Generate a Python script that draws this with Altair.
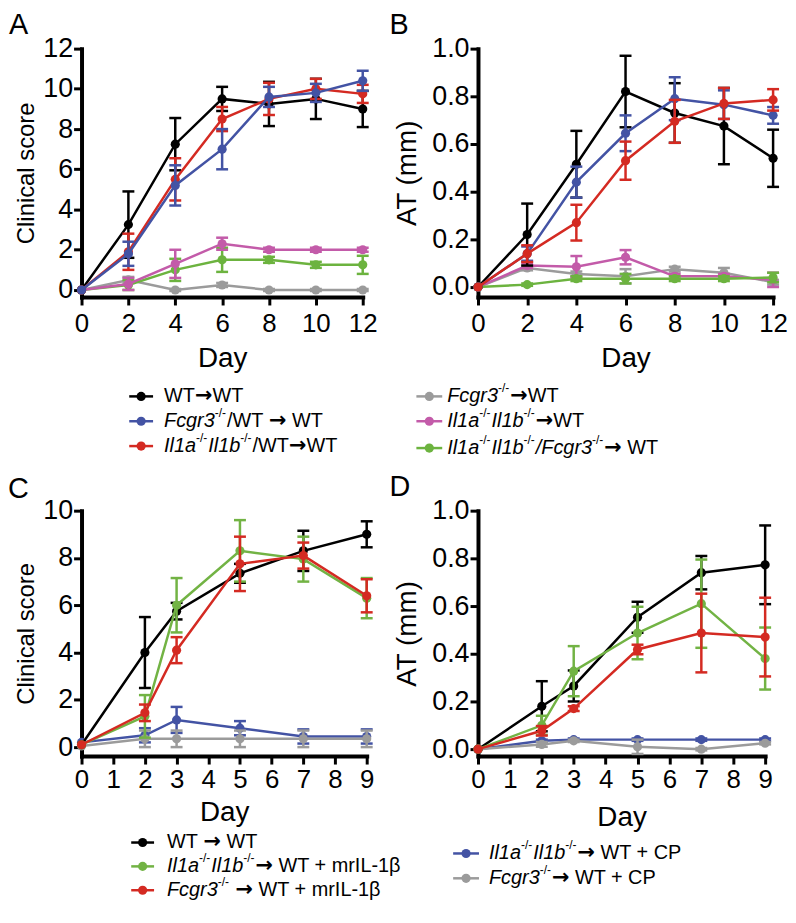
import altair as alt
import pandas as pd

FONT = "Liberation Sans, Arial, Helvetica, sans-serif"
ARROW_FONT = "DejaVu Sans, Liberation Sans, sans-serif"

# ------------------------------------------------------------------ data
DAYS_AB = [0, 2, 4, 6, 8, 10, 12]
DAYS_CD = [0, 2, 3, 5, 7, 9]

COLORS = {
    "wt": "#000000",
    "fcgr3_wt": "#4353A4",
    "il1_wt": "#D42A22",
    "fcgr3": "#9B9B9B",
    "il1": "#C35BA9",
    "il1_fcgr3": "#6CB33F",
    "il1_ril": "#72B344",
    "fcgr3_ril": "#D42A22",
    "il1_cp": "#4353A4",
    "fcgr3_cp": "#9B9B9B",
}

# Panel A: clinical score
A_MEAN = {
    "wt":        [0, 3.25, 7.25, 9.5, 9.25, 9.5, 9.0],
    "fcgr3_wt":  [0, 1.8, 5.2, 7.0, 9.6, 9.8, 10.4],
    "il1_wt":    [0, 1.9, 5.5, 8.5, 9.5, 10.0, 9.75],
    "fcgr3":     [0, 0.5, 0.0, 0.25, 0.0, 0.0, 0.0],
    "il1":       [0, 0.3, 1.3, 2.3, 2.0, 2.0, 2.0],
    "il1_fcgr3": [0, 0.25, 1.0, 1.5, 1.5, 1.25, 1.25],
}
A_SEM = {
    "wt":        [0, 1.65, 1.3, 0.6, 1.1, 1.0, 0.9],
    "fcgr3_wt":  [0, 0.6, 1.0, 1.0, 0.5, 0.45, 0.5],
    "il1_wt":    [0, 0.9, 1.05, 0.6, 0.8, 0.5, 0.45],
    "fcgr3":     [0, 0.15, 0.05, 0.1, 0.05, 0.05, 0.05],
    "il1":       [0, 0.3, 0.7, 0.3, 0.1, 0.1, 0.1],
    "il1_fcgr3": [0, 0.25, 0.55, 0.6, 0.15, 0.15, 0.45],
}
A_ORDER = ["fcgr3", "il1_fcgr3", "il1", "wt", "il1_wt", "fcgr3_wt"]

# Panel B: ankle thickness
B_MEAN = {
    "wt":        [0, 0.22, 0.515, 0.82, 0.73, 0.675, 0.54],
    "fcgr3_wt":  [0, 0.14, 0.44, 0.645, 0.79, 0.765, 0.72],
    "il1_wt":    [0, 0.14, 0.27, 0.53, 0.695, 0.77, 0.785],
    "fcgr3":     [0, 0.08, 0.055, 0.045, 0.075, 0.06, 0.02],
    "il1":       [0, 0.09, 0.085, 0.125, 0.045, 0.045, 0.03],
    "il1_fcgr3": [0, 0.01, 0.035, 0.035, 0.035, 0.035, 0.04],
}
B_SEM = {
    "wt":        [0, 0.13, 0.14, 0.15, 0.125, 0.16, 0.12],
    "fcgr3_wt":  [0, 0.03, 0.065, 0.075, 0.09, 0.06, 0.035],
    "il1_wt":    [0, 0.035, 0.075, 0.08, 0.09, 0.065, 0.045],
    "fcgr3":     [0, 0.01, 0.01, 0.03, 0.01, 0.02, 0.01],
    "il1":       [0, 0.01, 0.045, 0.03, 0.01, 0.01, 0.03],
    "il1_fcgr3": [0, 0.005, 0.01, 0.02, 0.01, 0.01, 0.02],
}
B_ORDER = ["fcgr3", "il1", "il1_fcgr3", "wt", "fcgr3_wt", "il1_wt"]

# Panel C: clinical score
C_MEAN = {
    "wt":        [0.1, 4.0, 5.75, 7.35, 8.3, 9.0],
    "il1_ril":   [0.1, 1.3, 6.0, 8.3, 7.95, 6.3],
    "fcgr3_ril": [0.1, 1.45, 4.1, 7.75, 8.1, 6.4],
    "il1_cp":    [0.2, 0.5, 1.15, 0.8, 0.45, 0.45],
    "fcgr3_cp":  [0.05, 0.35, 0.35, 0.35, 0.35, 0.35],
}
C_SEM = {
    "wt":        [0, 1.5, 0.35, 0.4, 0.85, 0.55],
    "il1_ril":   [0, 0.9, 1.15, 1.3, 0.95, 0.85],
    "fcgr3_ril": [0, 0.35, 0.55, 1.15, 0.55, 0.7],
    "il1_cp":    [0, 0.3, 0.55, 0.3, 0.3, 0.3],
    "fcgr3_cp":  [0, 0.35, 0.35, 0.35, 0.35, 0.35],
}
C_ORDER = ["il1_cp", "fcgr3_cp", "wt", "il1_ril", "fcgr3_ril"]

# Panel D: ankle thickness
D_MEAN = {
    "wt":        [0, 0.18, 0.265, 0.553, 0.74, 0.773],
    "il1_ril":   [0, 0.1, 0.327, 0.487, 0.61, 0.38],
    "fcgr3_ril": [0, 0.077, 0.17, 0.418, 0.487, 0.47],
    "il1_cp":    [0, 0.035, 0.04, 0.04, 0.04, 0.04],
    "fcgr3_cp":  [0, 0.02, 0.035, 0.01, 0.0, 0.025],
}
D_SEM = {
    "wt":        [0, 0.105, 0.065, 0.065, 0.07, 0.165],
    "il1_ril":   [0, 0.04, 0.105, 0.11, 0.185, 0.13],
    "fcgr3_ril": [0, 0.02, 0.01, 0.02, 0.165, 0.165],
    "il1_cp":    [0, 0.005, 0.005, 0.005, 0.005, 0.005],
    "fcgr3_cp":  [0, 0.01, 0.005, 0.03, 0.005, 0.005],
}
D_ORDER = ["il1_cp", "fcgr3_cp", "wt", "il1_ril", "fcgr3_ril"]

# legend entries: (series key, [(text, style)])  style n=normal i=italic s=superscript
SUP = ("-/-", "s")
LEG_A = [
    ("wt", [("WT→WT", "n")]),
    ("fcgr3_wt", [("Fcgr3", "i"), SUP, ("/WT → WT", "n")]),
    ("il1_wt", [("Il1a", "i"), SUP, ("Il1b", "i"), SUP, ("/WT→WT", "n")]),
]
LEG_B = [
    ("fcgr3", [("Fcgr3", "i"), SUP, ("→WT", "n")]),
    ("il1", [("Il1a", "i"), SUP, ("Il1b", "i"), SUP, ("→WT", "n")]),
    ("il1_fcgr3", [("Il1a", "i"), SUP, ("Il1b", "i"), SUP, ("/Fcgr3", "i"), SUP, ("→ WT", "n")]),
]
LEG_C = [
    ("wt", [("WT → WT", "n")]),
    ("il1_ril", [("Il1a", "i"), SUP, ("Il1b", "i"), SUP, ("→ WT + mrIL-1β", "n")]),
    ("fcgr3_ril", [("Fcgr3", "i"), SUP, (" → WT + mrIL-1β", "n")]),
]
LEG_D = [
    ("il1_cp", [("Il1a", "i"), SUP, ("Il1b", "i"), SUP, ("→ WT + CP", "n")]),
    ("fcgr3_cp", [("Fcgr3", "i"), SUP, ("→ WT + CP", "n")]),
]

# ------------------------------------------------------------------ helpers
WID = {" ": 278, "+": 584, "-": 333, "/": 278, "1": 556, "3": 556, "A": 667, "C": 722,
       "F": 611, "I": 278, "L": 556, "P": 667, "T": 611, "W": 944, "a": 556, "b": 556,
       "c": 500, "g": 556, "l": 222, "m": 833, "r": 333, "→": 838, "β": 575}
LEG_FS = 20
ARROW_FS = 21
SUP_FS = 12


def text_width(s, size):
    return sum(WID.get(ch, 556) for ch in s) / 1000.0 * size


def split_arrows(parts):
    out = []
    for txt, st in parts:
        if st == "n" and "→" in txt:
            pieces = txt.split("→")
            for i, p in enumerate(pieces):
                if p:
                    out.append((p, "n"))
                if i < len(pieces) - 1:
                    out.append(("→", "a"))
        else:
            out.append((txt, st))
    return out


def panel(days, means, sems, order, xmax, xticks, ydom, yticks, yfmt, w, h,
          ytitle, ytitle_size, ytitle_x, letter, letter_x, letter_y, day_y, xlab_pad):
    rows = []
    for k in order:
        for d, m, s in zip(days, means[k], sems[k]):
            rows.append({"day": d, "key": k, "mean": m, "lo": m - s, "hi": m + s, "sem": s})
    df = pd.DataFrame(rows)
    xscale = alt.Scale(domain=[0, xmax], nice=False, zero=False)
    yscale = alt.Scale(domain=ydom, nice=False, zero=False)
    xaxis = alt.Axis(values=xticks, format="d", title="Day", titleX=w / 2, titleY=day_y,
                     titleBaseline="alphabetic", labelPadding=xlab_pad, labelFontSize=26,
                     labelFlush=False, labelOverlap=False)
    yaxis = alt.Axis(values=yticks, format=yfmt, title=ytitle,
                     titleFontSize=ytitle_size, titleX=ytitle_x, titleY=h / 2,
                     titleBaseline="alphabetic", labelPadding=1, labelFontSize=27,
                     labelFlush=False, labelOverlap=False)
    base = alt.Chart(df)
    X = alt.X("day:Q", scale=xscale, axis=xaxis)
    layers = []
    for k in order:
        col = COLORS[k]
        d = base.transform_filter(alt.datum.key == k)
        e = d.transform_filter(alt.datum.sem > 0)
        layers.append(d.mark_line(strokeWidth=2.5, color=col).encode(
            x=X, y=alt.Y("mean:Q", scale=yscale, axis=yaxis), order="day:Q"))
        layers.append(e.mark_rule(strokeWidth=2.5, color=col).encode(
            x=X, y=alt.Y("lo:Q", scale=yscale, axis=yaxis), y2="hi:Q"))
        layers.append(e.transform_fold(["lo", "hi"], as_=["end", "val"]).mark_tick(
            orient="horizontal", size=12, thickness=2.5, color=col, opacity=1).encode(
            x=X, y=alt.Y("val:Q", scale=yscale, axis=yaxis)))
        layers.append(d.mark_circle(size=85, opacity=1, color=col).encode(
            x=X, y=alt.Y("mean:Q", scale=yscale, axis=yaxis)))
    lab = alt.Chart(pd.DataFrame({"t": [letter]})).mark_text(
        align="left", baseline="alphabetic", font=FONT, fontSize=29, color="black").encode(
        text="t:N", x=alt.value(letter_x), y=alt.value(letter_y))
    layers.append(lab)
    return alt.layer(*layers).properties(width=w, height=h)


def legend_cell(entries, w, h, ys, sx0, sx1, tx):
    sym, frag = [], []
    for (key, parts), y in zip(entries, ys):
        sym.append({"x0": sx0, "x1": sx1, "xm": (sx0 + sx1) / 2, "y": y, "c": COLORS[key]})
        x = tx
        for txt, st in split_arrows(parts):
            fs = SUP_FS if st == "s" else (ARROW_FS if st == "a" else LEG_FS)
            lead = len(txt) - len(txt.lstrip(" "))
            x += text_width(" " * lead, fs)
            core = txt.strip(" ")
            frag.append({"x": x, "y": y, "t": core, "st": st})
            x += text_width(txt[lead:], fs) + (1 if st == "s" else 0)
    sdf = pd.DataFrame(sym)
    fdf = pd.DataFrame(frag)
    X = lambda f: alt.X(f, scale=alt.Scale(domain=[0, w], range=[0, w]), axis=None)
    Y = lambda f: alt.Y(f, scale=alt.Scale(domain=[0, h], range=[0, h]), axis=None)
    line = alt.Chart(sdf).mark_rule(strokeWidth=2.5).encode(
        x=X("x0:Q"), x2="x1:Q", y=Y("y:Q"), color=alt.Color("c:N", scale=None))
    dot = alt.Chart(sdf).mark_circle(size=85, opacity=1).encode(
        x=X("xm:Q"), y=Y("y:Q"), color=alt.Color("c:N", scale=None))
    fb = alt.Chart(fdf)
    tn = fb.transform_filter(alt.datum.st == "n").mark_text(
        align="left", baseline="middle", font=FONT, fontSize=LEG_FS, color="black").encode(
        x=X("x:Q"), y=Y("y:Q"), text="t:N")
    ti = fb.transform_filter(alt.datum.st == "i").mark_text(
        align="left", baseline="middle", font=FONT, fontSize=LEG_FS, fontStyle="italic",
        color="black").encode(x=X("x:Q"), y=Y("y:Q"), text="t:N")
    ts = fb.transform_filter(alt.datum.st == "s").mark_text(
        align="left", baseline="middle", font=FONT, fontSize=SUP_FS, dy=-8,
        color="black").encode(x=X("x:Q"), y=Y("y:Q"), text="t:N")
    ta = fb.transform_filter(alt.datum.st == "a").mark_text(
        align="left", baseline="middle", font=ARROW_FONT, fontSize=ARROW_FS, fontWeight="bold",
        color="black").encode(x=X("x:Q"), y=Y("y:Q"), text="t:N")
    return alt.layer(line, dot, tn, ti, ts, ta).properties(width=w, height=h)


# ------------------------------------------------------------------ panels
pA = panel(DAYS_AB, A_MEAN, A_SEM, A_ORDER, 12, DAYS_AB, [-0.35, 12], list(range(0, 13, 2)), "d",
           283, 250, "Clinical score", 24, -48, "A", -73, -15, 70, 6)
pB = panel(DAYS_AB, B_MEAN, B_SEM, B_ORDER, 12, DAYS_AB, [-0.042, 1.0], [0, 0.2, 0.4, 0.6, 0.8, 1.0], ".1f",
           297, 250, "AT (mm)", 28, -63, "B", -89, -15, 70, 6)
pC = panel(DAYS_CD, C_MEAN, C_SEM, C_ORDER, 9, list(range(10)), [-0.38, 10], list(range(0, 11, 2)), "d",
           287, 247, "Clinical score", 24, -48, "C", -74, -13, 65, 3)
pD = panel(DAYS_CD, D_MEAN, D_SEM, D_ORDER, 9, list(range(10)), [-0.029, 1.0], [0, 0.2, 0.4, 0.6, 0.8, 1.0], ".1f",
           289, 247, "AT (mm)", 28, -63, "D", -89, -15, 70, 3)

lA = legend_cell(LEG_A, 287, 215, [100, 125, 150], 48, 72, 83)
lB = legend_cell(LEG_B, 289, 215, [100, 125, 152], -62, -36, -31)
lC = legend_cell(LEG_C, 287, 150, [87, 111, 135], 50, 73, 86)
lD = legend_cell(LEG_D, 289, 150, [98, 123], -25, 1, 11)

chart = alt.concat(pA, pB, lA, lB, pC, pD, lC, lD, columns=2,
                   spacing=alt.RowColnumber(row=0, column=112), bounds="flush").properties(
    padding={"left": 0, "top": 0, "right": 0, "bottom": 0}
).configure_view(stroke=None).configure_axis(
    domainColor="black", domainWidth=4, domainCap="square", tickColor="black", tickWidth=3,
    tickSize=8, labelColor="black", labelFont=FONT, titleFont=FONT, titleFontSize=28,
    titleFontWeight="normal", titleColor="black", grid=False)

chart.save("out.html", embed_options={"renderer": "svg", "actions": False})
